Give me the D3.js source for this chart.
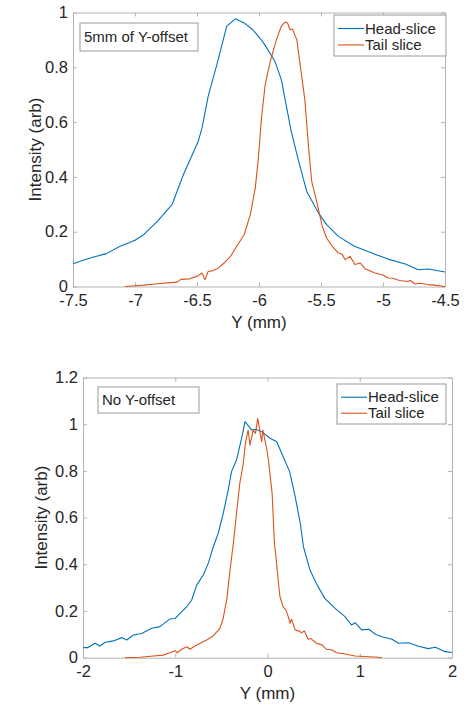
<!DOCTYPE html>
<html>
<head>
<meta charset="utf-8">
<script src="https://cdn.jsdelivr.net/npm/d3@7"></script>
<style>
  body { margin: 0; background: #fff; }
  text { font-family: "Liberation Sans", Arial, Helvetica, sans-serif; fill: #262626; }
</style>
</head>
<body>
<div id="chart"></div>
<script>
// --- data ---
const seriesNames = ["Head-slice", "Tail slice"];

// top panel: 5mm of Y-offset
const headX1 = [-7.5,-7.42,-7.34,-7.23,-7.12,-7.0,-6.93,-6.82,-6.7,-6.61,-6.49,-6.46,-6.41,-6.34,-6.26,-6.19,-6.12,-6.05,-5.99,-5.95,-5.87,-5.82,-5.78,-5.74,-5.68,-5.615,-5.52,-5.455,-5.36,-5.23,-5.09,-4.96,-4.82,-4.715,-4.635,-4.5];
const headY1 = [0.083,0.096,0.107,0.12,0.147,0.169,0.189,0.238,0.30,0.408,0.53,0.578,0.694,0.81,0.95,0.977,0.962,0.937,0.905,0.88,0.82,0.755,0.66,0.566,0.457,0.347,0.268,0.226,0.183,0.147,0.122,0.10,0.082,0.061,0.064,0.053];
const tailX1 = [-7.08,-7.0,-6.93,-6.82,-6.71,-6.66,-6.63,-6.56,-6.5,-6.46,-6.435,-6.41,-6.37,-6.33,-6.29,-6.23,-6.18,-6.12,-6.07,-6.03,-6.005,-5.98,-5.95,-5.91,-5.86,-5.82,-5.79,-5.77,-5.75,-5.73,-5.695,-5.67,-5.63,-5.60,-5.575,-5.535,-5.49,-5.455,-5.41,-5.36,-5.33,-5.306,-5.266,-5.226,-5.185,-5.145,-5.065,-5.0,-4.96,-4.92,-4.88,-4.85,-4.8,-4.78,-4.74,-4.7,-4.635,-4.6,-4.55,-4.5];
const tailY1 = [0.0,0.003,0.005,0.01,0.014,0.016,0.026,0.028,0.037,0.049,0.025,0.055,0.058,0.067,0.082,0.11,0.147,0.189,0.262,0.36,0.469,0.615,0.737,0.82,0.90,0.95,0.965,0.962,0.937,0.94,0.90,0.816,0.68,0.505,0.384,0.311,0.22,0.177,0.147,0.122,0.118,0.098,0.11,0.08,0.086,0.065,0.049,0.042,0.031,0.03,0.024,0.021,0.018,0.022,0.009,0.012,0.007,0.006,0.003,0.0];
const xTicks1 = [-7.5,-7,-6.5,-6,-5.5,-5,-4.5];
const yTicks1 = [0,0.2,0.4,0.6,0.8,1];

// bottom panel: no Y-offset
const headX2 = [-2.0,-1.95,-1.87,-1.816,-1.76,-1.67,-1.58,-1.526,-1.454,-1.364,-1.255,-1.165,-1.057,-1.0,-0.948,-0.876,-0.822,-0.768,-0.696,-0.642,-0.588,-0.534,-0.48,-0.426,-0.39,-0.336,-0.28,-0.244,-0.17,-0.13,-0.063,0.027,0.10,0.17,0.24,0.30,0.355,0.39,0.46,0.53,0.62,0.73,0.84,0.91,0.95,1.02,1.10,1.17,1.24,1.35,1.42,1.53,1.63,1.74,1.82,1.925,2.0];
const headY2 = [0.043,0.043,0.062,0.05,0.066,0.072,0.086,0.076,0.097,0.104,0.126,0.133,0.166,0.168,0.19,0.218,0.247,0.311,0.354,0.404,0.475,0.533,0.618,0.718,0.797,0.847,0.94,1.011,0.975,0.978,0.968,0.94,0.925,0.861,0.797,0.69,0.576,0.475,0.376,0.318,0.254,0.212,0.176,0.14,0.15,0.119,0.122,0.10,0.09,0.079,0.062,0.064,0.05,0.039,0.045,0.026,0.022];
const tailX2 = [-1.545,-1.38,-1.237,-1.13,-1.06,-1.0,-0.98,-0.93,-0.876,-0.84,-0.786,-0.73,-0.66,-0.588,-0.515,-0.48,-0.44,-0.406,-0.37,-0.336,-0.30,-0.265,-0.237,-0.21,-0.19,-0.155,-0.13,-0.106,-0.063,-0.05,-0.01,0.01,0.05,0.075,0.095,0.12,0.135,0.17,0.2,0.225,0.245,0.26,0.30,0.335,0.37,0.40,0.44,0.47,0.53,0.59,0.64,0.70,0.75,0.84,0.95,1.057,1.20,1.24];
const tailY2 = [0.0,0.002,0.007,0.011,0.021,0.03,0.021,0.036,0.047,0.036,0.05,0.062,0.076,0.093,0.126,0.169,0.254,0.376,0.49,0.618,0.747,0.825,0.925,0.975,0.91,0.975,0.96,1.025,0.925,0.975,0.897,0.847,0.704,0.49,0.418,0.318,0.261,0.218,0.204,0.176,0.147,0.165,0.119,0.115,0.107,0.115,0.079,0.082,0.062,0.055,0.036,0.033,0.021,0.016,0.007,0.005,0.002,0.0];
const xTicks2 = [-2,-1,0,1,2];
const yTicks2 = [0,0.2,0.4,0.6,0.8,1,1.2];

const colors = ["#0072BD", "#D95319"];
const axisColor = "#b4b4b4";

const svg = d3.select("#chart").append("svg")
  .attr("width", 472)
  .attr("height", 707);

function zip(xs, ys) {
  return xs.map((x, i) => ({ x: x, y: ys[i] }));
}

function drawPanel(cfg) {
  const x = d3.scaleLinear().domain(cfg.xDomain).range([cfg.left, cfg.right]);
  const y = d3.scaleLinear().domain(cfg.yDomain).range([cfg.bottom, cfg.top]);
  const g = svg.append("g");
  const tickLen = 4;

  // box with inward ticks on all sides
  const axes = [
    [d3.axisBottom(x).tickValues(cfg.xTicks), cfg.bottom, "x", true],
    [d3.axisTop(x).tickValues(cfg.xTicks), cfg.top, "x", false],
    [d3.axisLeft(y).tickValues(cfg.yTicks), cfg.left, "y", true],
    [d3.axisRight(y).tickValues(cfg.yTicks), cfg.right, "y", false],
  ];
  axes.forEach(([ax, pos, dir, labels]) => {
    ax.tickSize(-tickLen)
      .tickFormat(labels ? (d) => String(d) : "")
      .tickSizeOuter(0)
      .tickPadding(dir === "x" ? 8 : 5);
    const a = g.append("g")
      .attr("transform", dir === "x" ? `translate(0,${pos})` : `translate(${pos},0)`)
      .call(ax);
    a.select(".domain").attr("stroke", axisColor);
    a.selectAll(".tick line").attr("stroke", axisColor);
    a.selectAll(".tick text")
      .style("font-size", "16.5px")
      .attr("fill", "#262626");
  });

  // curves
  const line = d3.line().x((d) => x(d.x)).y((d) => y(d.y));
  cfg.series.forEach((s, i) => {
    g.append("path")
      .datum(s)
      .attr("fill", "none")
      .attr("stroke", colors[i])
      .attr("stroke-width", 1.1)
      .attr("stroke-linejoin", "round")
      .attr("d", line);
  });

  // axis labels
  g.append("text")
    .attr("x", (cfg.left + cfg.right) / 2)
    .attr("y", cfg.bottom + 41)
    .attr("text-anchor", "middle")
    .style("font-size", "17px")
    .text("Y (mm)");
  g.append("text")
    .attr("transform", `translate(${cfg.ylabelX},${(cfg.top + cfg.bottom) / 2}) rotate(-90)`)
    .attr("text-anchor", "middle")
    .style("font-size", "17px")
    .text("Intensity (arb)");

  // annotation box
  const nb = cfg.note;
  g.append("rect")
    .attr("x", nb.x).attr("y", nb.y).attr("width", nb.w).attr("height", nb.h)
    .attr("fill", "#fff").attr("stroke", "#9a9a9a").attr("stroke-width", 1);
  g.append("text")
    .attr("x", nb.x + 4)
    .attr("y", nb.y + nb.h / 2)
    .attr("dy", "0.35em")
    .style("font-size", "15px")
    .text(nb.text);

  // legend
  const lb = cfg.legend;
  g.append("rect")
    .attr("x", lb.x).attr("y", lb.y).attr("width", lb.w).attr("height", lb.h)
    .attr("fill", "#fff").attr("stroke", "#9a9a9a").attr("stroke-width", 1);
  seriesNames.forEach((name, i) => {
    const ly = lb.y + lb.h * (i === 0 ? 0.33 : 0.73);
    g.append("line")
      .attr("x1", lb.x + 4).attr("x2", lb.x + 30)
      .attr("y1", ly).attr("y2", ly)
      .attr("stroke", colors[i]).attr("stroke-width", 1.1);
    g.append("text")
      .attr("x", lb.x + 31)
      .attr("y", ly)
      .attr("dy", "0.35em")
      .style("font-size", "15px")
      .text(name);
  });
}

drawPanel({
  left: 73, right: 445, top: 12.5, bottom: 286.5, ylabelX: 41,
  xDomain: [-7.5, -4.5], yDomain: [0, 1],
  xTicks: xTicks1, yTicks: yTicks1,
  series: [zip(headX1, headY1), zip(tailX1, tailY1)],
  note: { x: 80, y: 23, w: 118, h: 28, text: "5mm of Y-offset" },
  legend: { x: 334, y: 15, w: 112, h: 41 },
});

drawPanel({
  left: 83, right: 452, top: 377.5, bottom: 657.7, ylabelX: 47,
  xDomain: [-2, 2], yDomain: [0, 1.2],
  xTicks: xTicks2, yTicks: yTicks2,
  series: [zip(headX2, headY2), zip(tailX2, tailY2)],
  note: { x: 98, y: 387, w: 101, h: 26, text: "No Y-offset" },
  legend: { x: 337, y: 384, w: 109, h: 40 },
});
</script>
</body>
</html>
